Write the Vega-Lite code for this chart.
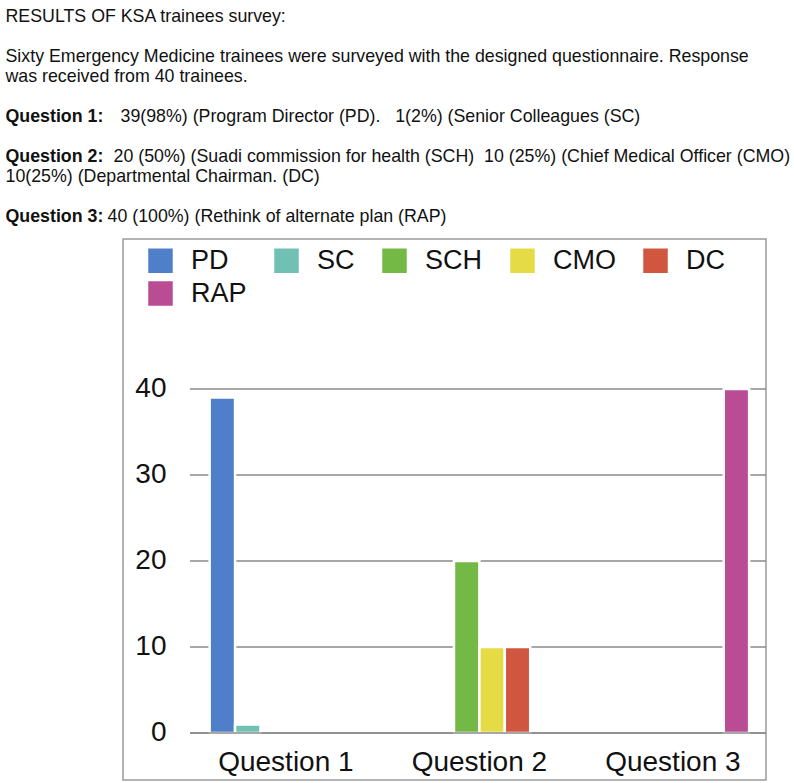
{
  "$schema": "https://vega.github.io/schema/vega-lite/v6.json",
  "padding": {"left": 4, "top": 8, "right": 0, "bottom": 2},
  "background": "white",
  "spacing": 12,
  "config": {"view": {"stroke": null}, "font": "Liberation Sans"},
  "datasets": {
    "survey": [
      {"question": "Question 1", "series": "PD", "count": 39},
      {"question": "Question 1", "series": "SC", "count": 1},
      {"question": "Question 2", "series": "SCH", "count": 20},
      {"question": "Question 2", "series": "CMO", "count": 10},
      {"question": "Question 2", "series": "DC", "count": 10},
      {"question": "Question 3", "series": "RAP", "count": 40}
    ],
    "ticks": [{"tick": 0}, {"tick": 10}, {"tick": 20}, {"tick": 30}, {"tick": 40}],
    "notes": [
      {"line": 0, "part": "start", "text": "RESULTS OF KSA trainees survey:"},
      {"line": 2, "part": "start", "text": "Sixty Emergency Medicine trainees were surveyed with the designed questionnaire. Response"},
      {"line": 3, "part": "start", "text": "was received from 40 trainees."},
      {"line": 5, "part": "label", "text": "Question 1:"},
      {"line": 5, "part": "rest1", "text": "39(98%) (Program Director (PD).\u00a0\u00a0\u00a01(2%) (Senior Colleagues (SC)"},
      {"line": 7, "part": "label", "text": "Question 2:"},
      {"line": 7, "part": "rest2", "text": "20 (50%) (Suadi commission for health (SCH)\u00a0\u00a010 (25%) (Chief Medical Officer (CMO)"},
      {"line": 8, "part": "start", "text": "10(25%) (Departmental Chairman. (DC)"},
      {"line": 10, "part": "label", "text": "Question 3:"},
      {"line": 10, "part": "rest3", "text": "40 (100%) (Rethink of alternate plan (RAP)"}
    ]
  },
  "vconcat": [
    {
      "width": 1,
      "height": 200,
      "data": {"name": "notes"},
      "encoding": {
        "y": {"field": "line", "type": "ordinal", "scale": {"type": "point", "padding": 0, "domain": [0, 1, 2, 3, 4, 5, 6, 7, 8, 9, 10]}, "axis": null},
        "text": {"field": "text"}
      },
      "layer": [
        {
          "transform": [{"filter": "datum.part == 'start'"}],
          "mark": {"type": "text", "align": "left", "baseline": "middle", "fontSize": 17.8, "font": "Liberation Sans", "color": "#111", "dx": -118}
        },
        {
          "transform": [{"filter": "datum.part == 'label'"}],
          "mark": {"type": "text", "align": "left", "baseline": "middle", "fontSize": 17.8, "font": "Liberation Sans", "fontWeight": "bold", "color": "#111", "dx": -118}
        },
        {
          "transform": [{"filter": "datum.part == 'rest1'"}],
          "mark": {"type": "text", "align": "left", "baseline": "middle", "fontSize": 17.8, "font": "Liberation Sans", "color": "#111", "dx": -3}
        },
        {
          "transform": [{"filter": "datum.part == 'rest2'"}],
          "mark": {"type": "text", "align": "left", "baseline": "middle", "fontSize": 17.8, "font": "Liberation Sans", "color": "#111", "dx": -10}
        },
        {
          "transform": [{"filter": "datum.part == 'rest3'"}],
          "mark": {"type": "text", "align": "left", "baseline": "middle", "fontSize": 17.8, "font": "Liberation Sans", "color": "#111", "dx": -16}
        }
      ]
    },
    {
      "width": 643,
      "height": 541,
      "view": {"stroke": "#9b9b9b", "strokeWidth": 1.5},
      "resolve": {"scale": {"x": "independent"}},
      "layer": [
        {
          "data": {"name": "ticks"},
          "mark": {"type": "rule", "color": "#8a8a8a", "strokeWidth": 1.5},
          "encoding": {
            "y": {"field": "tick", "type": "quantitative", "scale": {"domain": [-5.465, 57.44], "nice": false}},
            "x": {"datum": 0, "type": "quantitative", "scale": {"domain": [-0.1163, 1], "nice": false}, "axis": null},
            "x2": {"datum": 1}
          }
        },
        {
          "data": {"name": "survey"},
          "mark": {"type": "bar", "stroke": "white", "strokeWidth": 2.5},
          "encoding": {
            "x": {
              "field": "question", "type": "nominal",
              "scale": {"domain": ["Question 1", "Question 2", "Question 3"], "paddingInner": 0.212, "paddingOuter": 0.2675, "align": 0.837},
              "axis": {"orient": "bottom", "offset": -47, "labelPadding": 15, "ticks": false, "domain": false, "title": null, "labelFontSize": 28, "labelAngle": 0, "labelColor": "#111", "labelFont": "Liberation Sans", "grid": false}
            },
            "xOffset": {
              "field": "series", "type": "nominal",
              "scale": {"domain": ["PD", "SC", "SCH", "CMO", "DC", "RAP"], "paddingInner": 0, "paddingOuter": 0}
            },
            "y": {
              "field": "count", "type": "quantitative",
              "scale": {"domain": [-5.465, 57.44], "nice": false},
              "axis": {"values": [0, 10, 20, 30, 40], "offset": -45, "labelPadding": 2, "ticks": false, "domain": false, "grid": false, "title": null, "labelFontSize": 28, "labelColor": "#111", "labelFont": "Liberation Sans", "minExtent": 163}
            },
            "color": {
              "field": "series", "type": "nominal",
              "scale": {"domain": ["PD", "SC", "SCH", "CMO", "DC", "RAP"], "range": ["#4f7fc8", "#70c1b3", "#74b845", "#e5dc45", "#d0563f", "#b94c92"]},
              "legend": {"orient": "none", "legendX": 24, "legendY": 230, "direction": "horizontal", "columns": 5, "title": null, "symbolType": "square", "symbolSize": 600, "symbolStrokeWidth": 0, "symbolOpacity": 1, "labelFontSize": 27, "labelOffset": 17, "columnPadding": 26, "rowPadding": 5, "labelFont": "Liberation Sans", "labelColor": "#111"}
            }
          }
        },
        {
          "data": {"name": "ticks"},
          "transform": [{"filter": "datum.tick == 0"}],
          "mark": {"type": "rule", "color": "#8a8a8a", "strokeWidth": 1.5},
          "encoding": {
            "y": {"field": "tick", "type": "quantitative", "scale": {"domain": [-5.465, 57.44], "nice": false}},
            "x": {"datum": 0, "type": "quantitative", "scale": {"domain": [-0.1163, 1], "nice": false}, "axis": null},
            "x2": {"datum": 1}
          }
        }
      ]
    }
  ]
}
